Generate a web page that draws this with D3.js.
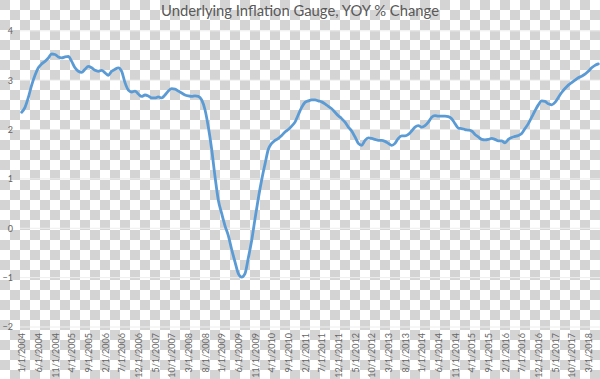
<!DOCTYPE html>
<html><head><meta charset="utf-8">
<script src="https://cdn.jsdelivr.net/npm/d3@7"></script>
<style>html,body{margin:0;padding:0;background:#fff;}svg{display:block;}</style>
</head><body>
<svg id="chart" width="600" height="379"></svg>
<script>
const title = "Underlying Inflation Gauge, YOY % Change";
const startYear = 2004, startMonth = 1;
const yTicks = [-2, -1, 0, 1, 2, 3, 4];
const v2004 = [2.35, 2.45, 2.65, 2.9, 3.1, 3.25, 3.33, 3.38, 3.45, 3.53, 3.52, 3.47];
const v2005 = [3.45, 3.47, 3.48, 3.38, 3.25, 3.18, 3.16, 3.22, 3.28, 3.25, 3.2, 3.18];
const v2006 = [3.2, 3.15, 3.1, 3.18, 3.22, 3.25, 3.18, 2.95, 2.8, 2.76, 2.78, 2.72];
const v2007 = [2.67, 2.7, 2.68, 2.64, 2.64, 2.66, 2.64, 2.7, 2.78, 2.83, 2.82, 2.78];
const v2008 = [2.74, 2.7, 2.68, 2.67, 2.68, 2.67, 2.6, 2.4, 2.05, 1.6, 1.05, 0.57];
const v2009 = [0.3, 0.05, -0.15, -0.43, -0.68, -0.92, -0.99, -0.92, -0.6, -0.25, 0.19, 0.61];
const v2010 = [0.98, 1.3, 1.6, 1.72, 1.78, 1.82, 1.88, 1.95, 2.0, 2.07, 2.15, 2.3];
const v2011 = [2.45, 2.55, 2.58, 2.6, 2.6, 2.58, 2.56, 2.52, 2.47, 2.42, 2.35, 2.28];
const v2012 = [2.22, 2.15, 2.05, 1.97, 1.85, 1.72, 1.68, 1.78, 1.83, 1.82, 1.8, 1.78];
const v2013 = [1.78, 1.76, 1.72, 1.68, 1.72, 1.82, 1.87, 1.87, 1.9, 1.97, 2.05, 2.08];
const v2014 = [2.05, 2.08, 2.15, 2.25, 2.28, 2.27, 2.27, 2.27, 2.26, 2.22, 2.12, 2.03];
const v2015 = [2.02, 2.0, 1.99, 1.97, 1.9, 1.85, 1.8, 1.79, 1.8, 1.82, 1.8, 1.77];
const v2016 = [1.77, 1.73, 1.8, 1.84, 1.86, 1.88, 1.92, 2.02, 2.12, 2.25, 2.38, 2.5];
const v2017 = [2.58, 2.57, 2.52, 2.5, 2.55, 2.65, 2.75, 2.83, 2.9, 2.95, 3.0, 3.05];
const v2018 = [3.08, 3.12, 3.18, 3.25, 3.3, 3.33];

const values = [].concat(v2004, v2005, v2006, v2007, v2008, v2009, v2010, v2011,
  v2012, v2013, v2014, v2015, v2016, v2017, v2018);
const categories = values.map((v, i) => {
  const m = (startMonth - 1 + i) % 12 + 1;
  const yr = startYear + Math.floor((startMonth - 1 + i) / 12);
  return m + "/1/" + yr;
});
const data = categories.map((c, i) => ({c, v: values[i]}));

(function draw() {
const W = 600, H = 379;
const svg = d3.select("#chart");

const defs = svg.append("defs");
const pat = defs.append("pattern").attr("id", "chk").attr("width", 20).attr("height", 20)
  .attr("patternUnits", "userSpaceOnUse");
pat.append("rect").attr("width", 20).attr("height", 20).attr("fill", "#ffffff");
pat.append("rect").attr("x", 0).attr("y", 0).attr("width", 10).attr("height", 10).attr("fill", "#d4d4d4");
pat.append("rect").attr("x", 10).attr("y", 10).attr("width", 10).attr("height", 10).attr("fill", "#d4d4d4");
svg.append("rect").attr("width", W).attr("height", H).attr("fill", "url(#chk)");

const pLeft = 20, pRight = 600, pTop = 30.8, pBottom = 327;
const x = d3.scalePoint().domain(categories).range([pLeft, pRight]).padding(0.5);
const y = d3.scaleLinear().domain([-2, 4]).range([pBottom, pTop]);

svg.append("g").selectAll("line").data(yTicks).join("line")
  .attr("x1", pLeft).attr("x2", pRight)
  .attr("y1", d => y(d)).attr("y2", d => y(d))
  .attr("stroke", "#eeeeee").attr("stroke-width", 1);

const yAxis = d3.axisLeft(y).tickValues(yTicks).tickSize(0).tickPadding(0).tickFormat(d3.format("d"));
const gy = svg.append("g").attr("transform", `translate(${pLeft - 7},0)`).call(yAxis);
gy.select(".domain").remove();
gy.selectAll("text").attr("font-family", "Lato, 'Open Sans', sans-serif")
  .attr("font-size", 9).attr("fill", "#666666");

const shown = categories.filter((c, i) => i % 5 === 0);
const xAxis = d3.axisBottom(x).tickValues(shown).tickSize(0).tickPadding(0);
const gx = svg.append("g").attr("transform", `translate(0,${pBottom})`).call(xAxis);
gx.select(".domain").remove();
gx.selectAll("text")
  .attr("font-family", "Lato, 'Open Sans', sans-serif")
  .attr("font-size", 9).attr("fill", "#666666")
  .attr("text-anchor", "end")
  .attr("transform", "rotate(-90)")
  .attr("x", -6).attr("y", 0).attr("dy", "0.35em");

const line = d3.line().x(d => x(d.c)).y(d => y(d.v)).curve(d3.curveMonotoneX);
svg.append("path").datum(data).attr("d", line)
  .attr("fill", "none").attr("stroke", "#5b9bd5").attr("stroke-width", 2.8)
  .attr("stroke-linejoin", "round").attr("stroke-linecap", "round");

svg.append("text").attr("x", 300).attr("y", 16).attr("text-anchor", "middle")
  .attr("font-family", "Lato, 'Open Sans', sans-serif").attr("font-size", 14.8)
  .attr("fill", "#595959").text(title);
})();
</script>
</body></html>
